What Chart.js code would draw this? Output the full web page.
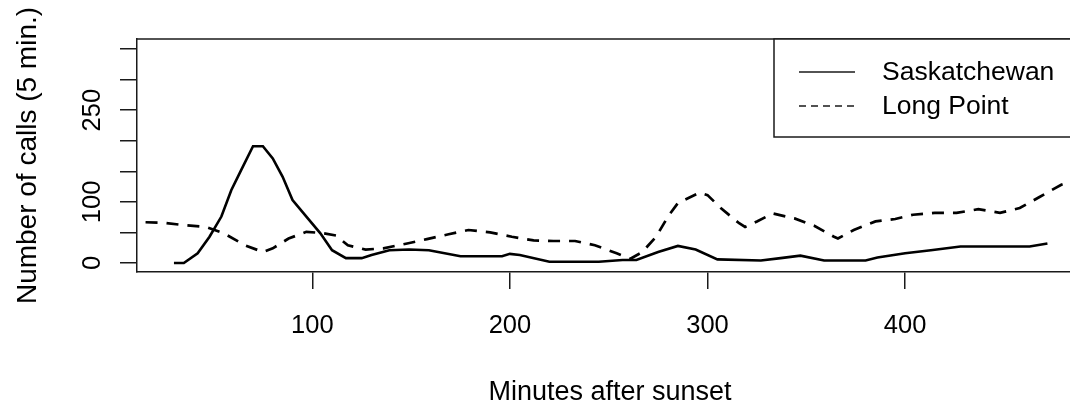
<!DOCTYPE html>
<html>
<head>
<meta charset="utf-8">
<script src="https://cdn.jsdelivr.net/npm/chart.js@4"></script>
<style>
  html, body { margin: 0; padding: 0; background: #fff; overflow: hidden; }
  #wrap { width: 1085px; height: 407px; }
</style>
</head>
<body>
<div id="wrap"><canvas id="callsChart" width="1085" height="407"></canvas></div>
<script>
// Minutes after sunset / number of calls per 5 min
const saskX = [30, 35, 42, 48, 54, 59, 64, 70, 75, 80, 85, 90, 97, 104, 110, 117, 125, 130, 139, 149, 159, 175, 196, 200, 205, 220, 245, 257, 264, 275, 285, 294, 305, 327, 337, 347, 359, 371, 380, 386, 400, 413, 428, 463, 472]
const saskY = [0, 0, 16, 43, 76, 119, 152, 191, 191, 171, 141, 103, 76, 49, 21, 8, 8, 13, 21, 22, 21, 11, 11, 15, 13, 2, 2, 5, 5, 18, 28, 22, 6, 4, 8, 12, 4, 4, 4, 9, 16, 21, 27, 27, 32]

const longX = [5, 12, 24, 35, 46, 55, 66, 75, 80, 88, 97, 105, 112, 118, 127, 136, 148, 158, 169, 179, 190, 201, 212, 222, 233, 243, 254, 261, 267, 274, 280, 285, 296, 300, 307, 316, 319, 325, 333, 344, 354, 364, 366, 374, 385, 395, 404, 415, 426, 437, 448, 458, 468, 479, 490]
const longY = [67, 67, 66, 62, 59, 49, 29, 18, 24, 40, 51, 49, 45, 29, 22, 24, 32, 39, 47, 54, 50, 43, 37, 36, 36, 29, 16, 7, 18, 43, 76, 98, 115, 111, 89, 65, 59, 68, 81, 73, 61, 43, 40, 54, 68, 72, 79, 82, 82, 88, 82, 90, 108, 128, 140]

const seriesNames = ["Saskatchewan", "Long Point"]
const xTicks = [100, 200, 300, 400]
const yTicks = [0, 50, 100, 150, 200, 250, 300, 350]
const yLabelled = [0, 100, 250]

const FONT = "'Liberation Sans', Arial, sans-serif"
const INK = "#1a1a1a"

// box top line + legend in the top right corner (R style)
const boxAndLegend = {
  id: "boxAndLegend",
  afterDraw(chart) {
    const { ctx, chartArea } = chart
    ctx.save()
    ctx.strokeStyle = INK
    ctx.lineWidth = 1.5
    ctx.beginPath()
    ctx.moveTo(chartArea.left, chartArea.top)
    ctx.lineTo(chartArea.right, chartArea.top)
    ctx.stroke()

    const bx = 774
    const bw = chartArea.right - bx
    const by = chartArea.top
    const bh = 98
    ctx.fillStyle = "#fff"
    ctx.fillRect(bx, by, bw, bh)
    ctx.strokeRect(bx, by, bw, bh)

    ctx.font = "26.5px " + FONT
    ctx.textBaseline = "middle"
    ctx.textAlign = "left"
    chart.data.datasets.forEach((ds, i) => {
      const y = by + 33 + i * 34
      ctx.lineWidth = 1.3
      ctx.setLineDash(ds.borderDash && ds.borderDash.length ? [7, 5] : [])
      ctx.beginPath()
      ctx.moveTo(bx + 25, y)
      ctx.lineTo(bx + 81, y)
      ctx.stroke()
      ctx.setLineDash([])
      ctx.fillStyle = "#000"
      ctx.fillText(ds.label, bx + 108, y + 1)
    })
    ctx.restore()
  },
}

const ctx = document.getElementById("callsChart").getContext("2d")
new Chart(ctx, {
  type: "line",
  data: {
    datasets: [
      {
        label: seriesNames[0],
        data: saskX.map((x, i) => ({ x, y: saskY[i] })),
        borderColor: "#000",
        borderWidth: 2.6,
        pointRadius: 0,
        tension: 0,
        fill: false,
      },
      {
        label: seriesNames[1],
        data: longX.map((x, i) => ({ x, y: longY[i] })),
        borderColor: "#000",
        borderWidth: 2.7,
        borderDash: [12, 9],
        pointRadius: 0,
        tension: 0,
        fill: false,
      },
    ],
  },
  options: {
    responsive: false,
    devicePixelRatio: 1,
    animation: false,
    layout: { padding: { top: 39, right: 2, left: 0, bottom: 0 } },
    plugins: {
      legend: { display: false },
      tooltip: { enabled: false },
    },
    scales: {
      x: {
        type: "linear",
        min: 11.3,
        max: 490,
        afterBuildTicks: s => { s.ticks = xTicks.map(v => ({ value: v })) },
        afterFit: s => { s.height = 135 },
        ticks: {
          autoSkip: false,
          maxRotation: 0,
          padding: 22,
          color: "#000",
          font: { family: FONT, size: 25.5 },
        },
        grid: { drawOnChartArea: false, tickLength: 17, color: INK, lineWidth: 1.5 },
        border: { display: true, color: INK, width: 1.5 },
        title: {
          display: true,
          text: "Minutes after sunset",
          color: "#000",
          font: { family: FONT, size: 27, lineHeight: 1.1 },
          padding: { top: 0, bottom: 0 },
        },
      },
      y: {
        type: "linear",
        min: -14.7,
        max: 366.4,
        afterBuildTicks: s => { s.ticks = yTicks.map(v => ({ value: v })) },
        afterFit: s => { s.width = 137 },
        ticks: {
          autoSkip: false,
          minRotation: 90,
          maxRotation: 90,
          crossAlign: "center",
          padding: 6,
          color: "#000",
          font: { family: FONT, size: 25.5 },
          callback: v => (yLabelled.includes(v) ? String(v) : ""),
        },
        grid: { drawOnChartArea: false, tickLength: 17, color: INK, lineWidth: 1.5 },
        border: { display: true, color: INK, width: 1.5 },
        title: {
          display: true,
          text: "Number of calls (5 min.)",
          color: "#000",
          font: { family: FONT, size: 28, lineHeight: 1.2 },
          padding: { top: 11, bottom: 0 },
        },
      },
    },
  },
  plugins: [boxAndLegend],
})
</script>
</body>
</html>
